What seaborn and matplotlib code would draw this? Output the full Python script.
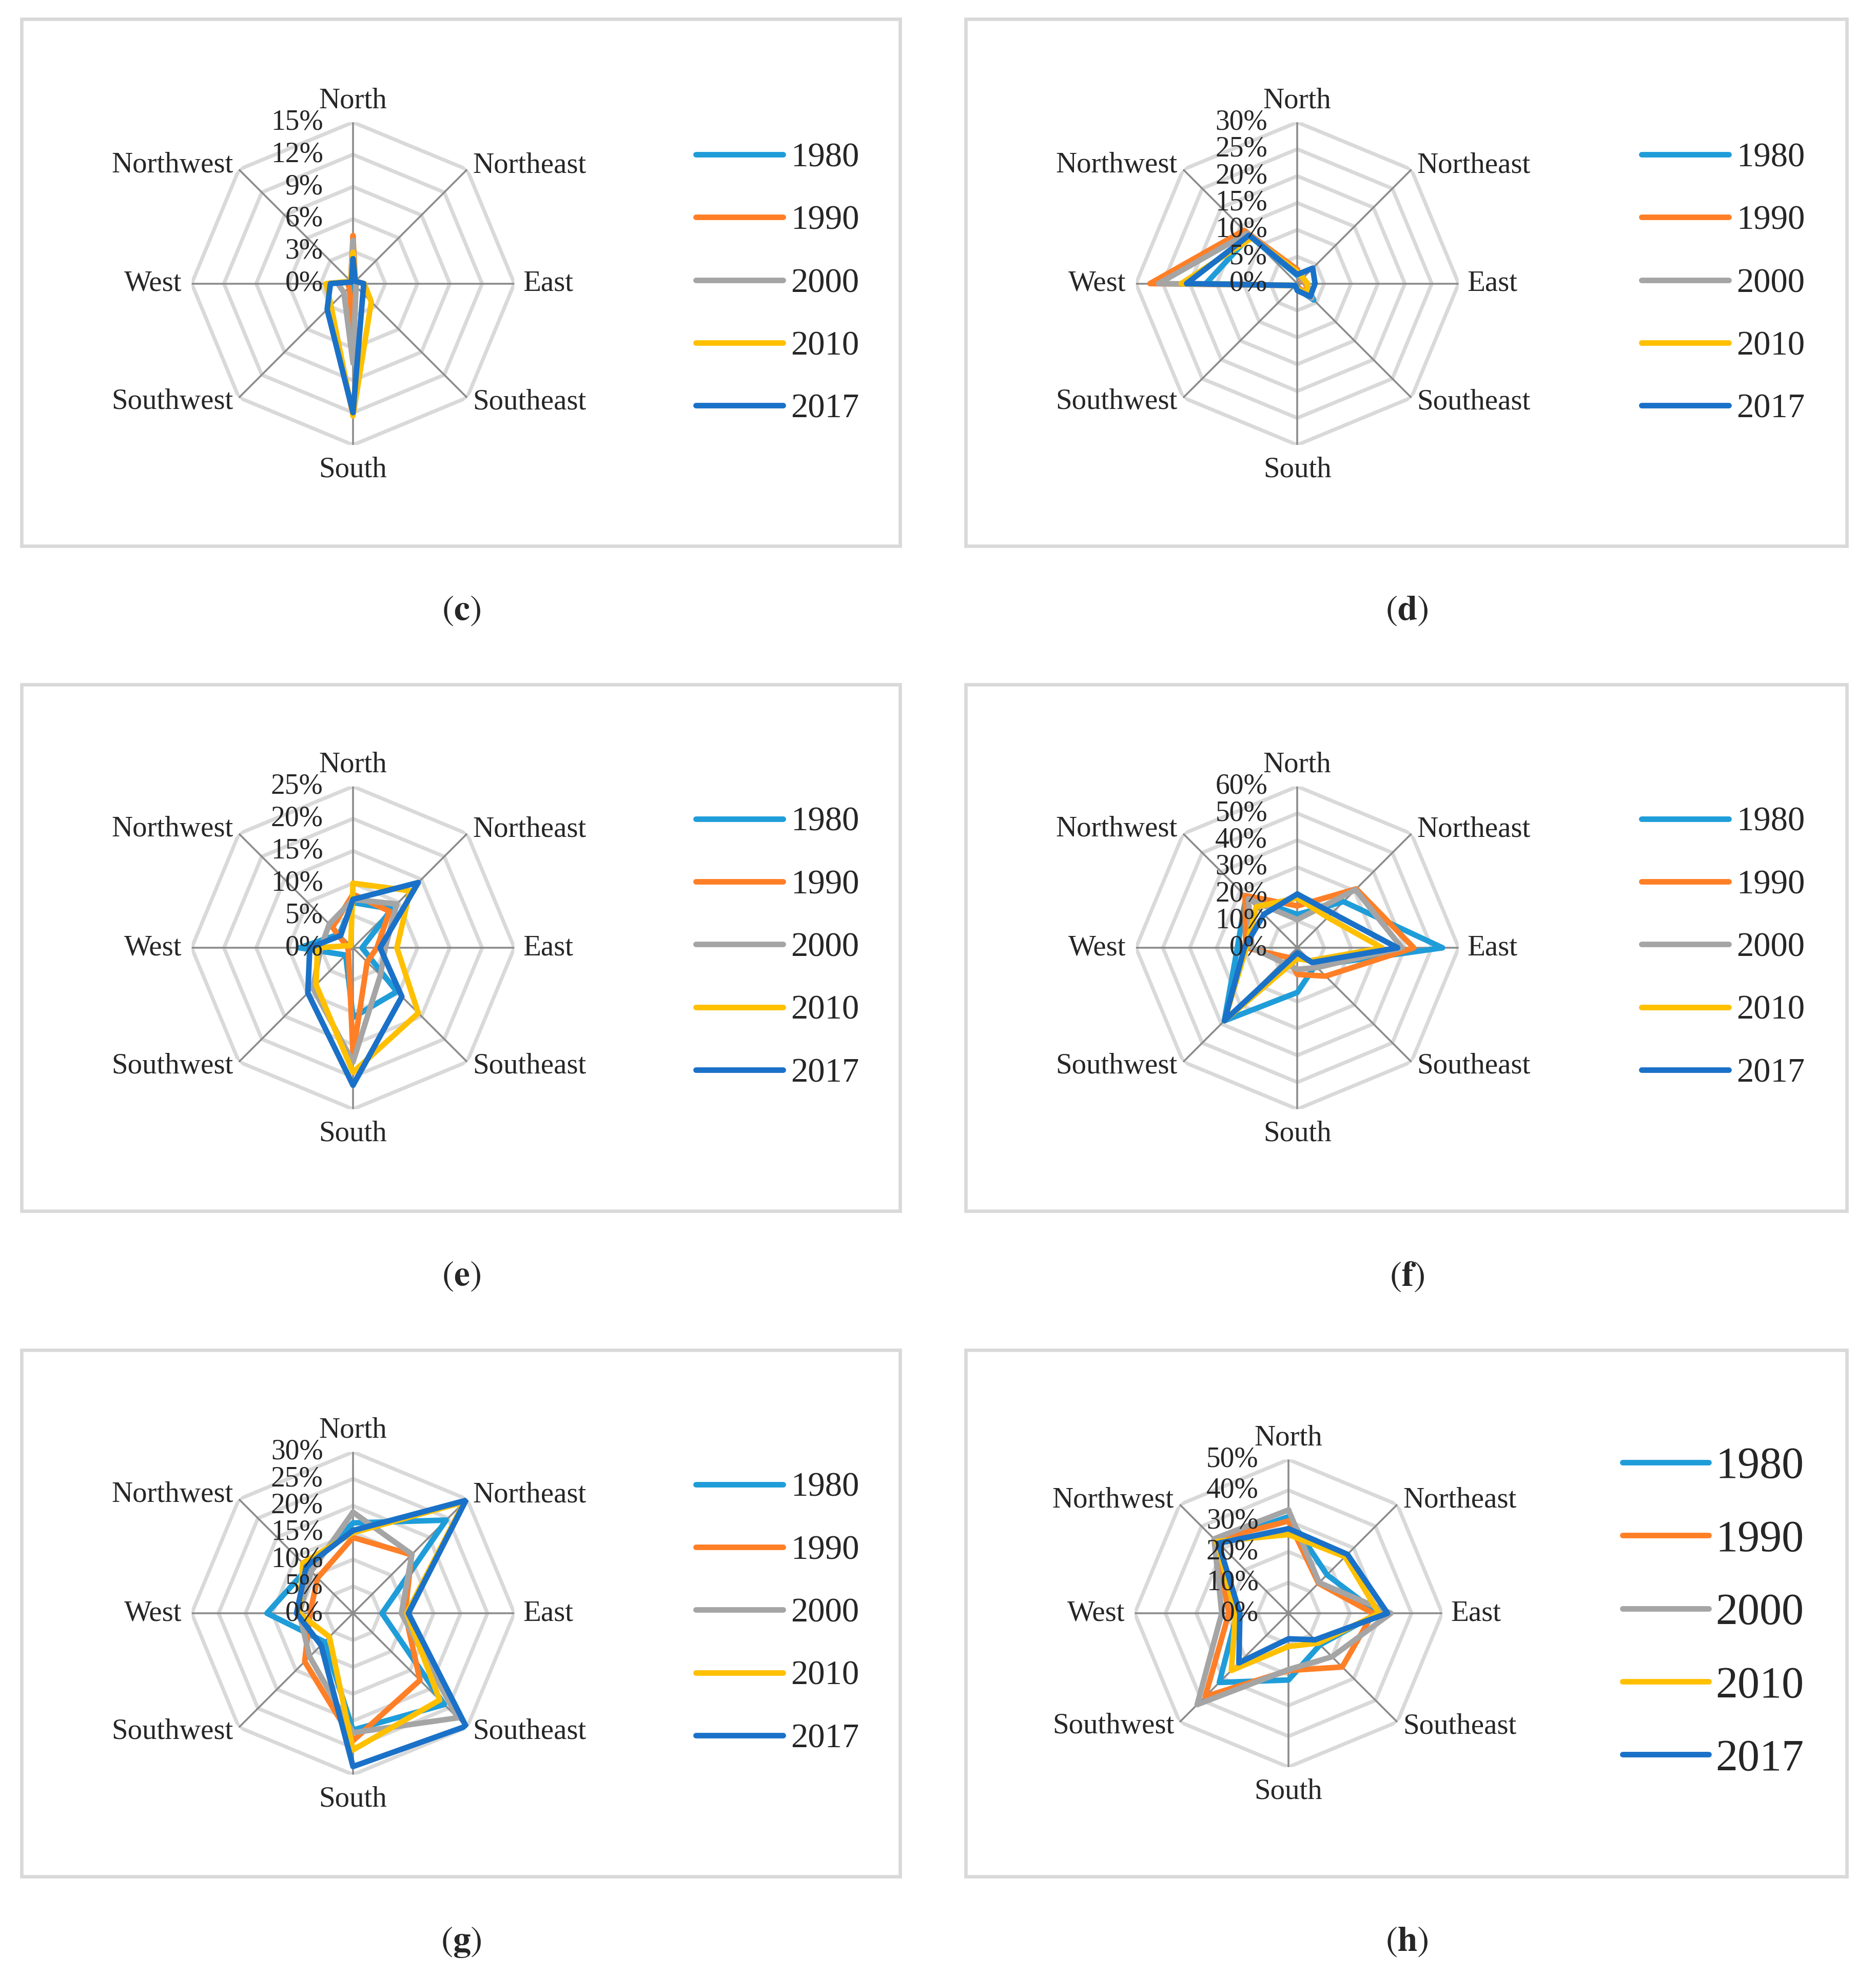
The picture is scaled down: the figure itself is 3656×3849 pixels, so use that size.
import numpy as np
import matplotlib.pyplot as plt
import seaborn as sns
from matplotlib.patches import Rectangle
from matplotlib.transforms import offset_copy

# Data: share (%) per wind direction, per year, for panels (c)-(h)
directions = ["North", "Northeast", "East", "Southeast", "South", "Southwest", "West", "Northwest"]
years = ["1980", "1990", "2000", "2010", "2017"]
colors = ["#1F9DD9", "#FF7F27", "#A5A5A5", "#FFC000", "#1A71C8"]

c_values = [[2.0, 0.2, 0.3, 0.3, 2.6, 0.3, 0.3, 0.2],
            [4.45, 0.3, 0.3, 0.4, 4.2, 0.5, 0.5, 0.3],
            [4.0, 0.2, 0.3, 0.4, 7.4, 1.2, 1.4, 0.3],
            [2.9, 0.3, 1.05, 2.4, 12.3, 2.9, 2.5, 0.3],
            [2.3, 0.3, 1.0, 1.3, 12.0, 3.4, 2.1, 0.2]]
c_ticks = [0, 3, 6, 9, 12, 15]

d_values = [[1.5, 1.5, 1.5, 4.3, 1.0, 0.5, 17.0, 12.5],
            [2.6, 1.0, 1.6, 2.5, 0.8, 0.5, 27.4, 14.0],
            [2.0, 1.2, 1.8, 3.8, 1.0, 0.5, 25.8, 13.2],
            [2.2, 1.5, 1.9, 2.5, 1.0, 0.5, 21.6, 12.0],
            [1.7, 4.05, 3.3, 3.4, 1.3, 0.5, 20.6, 12.7]]
d_ticks = [0, 5, 10, 15, 20, 25, 30]

e_values = [[7.0, 8.5, 1.4, 9.6, 10.8, 1.6, 8.3, 3.0],
            [8.3, 8.0, 3.7, 3.1, 16.5, 1.0, 0.8, 4.5],
            [7.5, 9.6, 5.0, 6.0, 17.7, 8.8, 5.0, 5.2],
            [10.0, 12.5, 6.8, 14.3, 19.3, 8.1, 5.5, 0.5],
            [7.5, 14.3, 4.2, 10.7, 21.3, 9.9, 6.7, 2.7]]
e_ticks = [0, 5, 10, 15, 20, 25]

f_values = [[12.4, 24.3, 54.0, 9.4, 16.6, 38.4, 22.3, 27.0],
            [15.6, 31.0, 43.3, 14.9, 9.9, 5.0, 19.2, 27.5],
            [10.5, 30.6, 38.9, 10.4, 8.0, 7.7, 16.9, 25.7],
            [18.5, 16.0, 31.5, 6.8, 4.0, 38.3, 19.0, 21.6],
            [20.0, 18.3, 37.3, 7.7, 1.9, 38.3, 19.7, 17.6]]
f_ticks = [0, 10, 20, 30, 40, 50, 60]

g_values = [[16.8, 24.5, 5.4, 24.0, 21.7, 7.5, 16.0, 11.9],
            [14.1, 15.4, 9.7, 17.6, 23.7, 12.7, 8.0, 9.3],
            [18.8, 15.5, 9.0, 27.5, 22.2, 11.4, 10.0, 11.0],
            [15.0, 29.3, 10.0, 22.8, 25.4, 6.2, 10.0, 13.2],
            [15.4, 29.7, 10.3, 29.7, 28.5, 8.4, 10.5, 12.3]]
g_ticks = [0, 5, 10, 15, 20, 25, 30]

h_values = [[31.4, 17.7, 29.0, 14.5, 21.7, 31.8, 16.7, 33.0],
            [30.0, 13.8, 27.5, 24.7, 18.6, 38.3, 19.4, 33.8],
            [33.6, 14.1, 33.3, 20.0, 18.3, 42.0, 21.7, 34.2],
            [25.6, 26.0, 29.4, 13.7, 10.8, 26.3, 17.2, 33.0],
            [27.5, 27.1, 32.2, 12.2, 8.3, 22.8, 15.8, 32.2]]
h_ticks = [0, 10, 20, 30, 40, 50]

sns.set_style("white")
plt.rcParams["font.family"] = ["Liberation Serif", "DejaVu Serif"]
plt.rcParams["mathtext.fontset"] = "stix"

fig = plt.figure(figsize=(18.28, 19.245), dpi=200)

# layout grid measured on the reference (1488 x 1567 units)
REF_W, REF_H = 1488.0, 1567.0
def fx(x):
    return x / REF_W
def fy(y):
    return 1 - y / REF_H

angles = np.deg2rad(np.arange(8) * 45.0)
angles_closed = np.append(angles, angles[0])

# label offsets (points) and alignment per direction
label_pos = [(0, 10, "center", "baseline"), (4, 3, "left", "center"),
             (6, 0, "left", "center"), (4, -3, "left", "center"),
             (0, -8, "center", "top"), (-4, -3, "right", "center"),
             (-7, 0, "right", "center"), (-4, 3, "right", "center")]

LINE_W = 3.9


def radar(values, ticks, cx, cy, R, leg_x, leg_fs, leg_len, leg_pad, leg_space):
    ax = fig.add_axes([fx(cx - R), fy(cy + R), fx(2 * R), 2 * R / REF_H],
                      projection="polar")
    ax.set_theta_zero_location("N")
    ax.set_theta_direction(-1)
    rmax = ticks[-1]
    # octagon rings and spokes
    for t in ticks[1:]:
        ax.plot(angles_closed, [t] * 9, color="#D9D9D9", lw=2.6, zorder=1)
    for a in angles:
        ax.plot([a, a], [0, rmax], color="#8C8C8C", lw=1.3, zorder=2)
    for vals, year, col in zip(values, years, colors):
        sns.lineplot(x=angles_closed, y=np.append(vals, vals[0]), ax=ax, sort=False,
                     estimator=None, color=col, linewidth=LINE_W, label=year,
                     solid_joinstyle="round", solid_capstyle="round", zorder=3)
        ax.lines[-1].set_linewidth(LINE_W)
    ax.set_ylim(0, rmax)
    ax.grid(False)
    ax.set_xticks([])
    ax.set_yticks([])
    ax.set_xlabel("")
    ax.set_ylabel("")
    ax.spines["polar"].set_visible(False)
    ax.patch.set_alpha(0)
    # radial tick labels
    tick_tr = offset_copy(ax.transData, fig=fig, x=-21, y=0, units="points")
    for t in ticks:
        ax.text(0, t, f"{t}%", transform=tick_tr, ha="right", va="center",
                fontsize=20, zorder=4)
    # direction labels
    for a, name, (dx, dy, ha, va) in zip(angles, directions, label_pos):
        tr = offset_copy(ax.transData, fig=fig, x=dx, y=dy, units="points")
        ax.text(a, rmax, name, transform=tr, ha=ha, va=va, fontsize=20.5)
    leg = ax.legend(loc="center left", bbox_to_anchor=(fx(leg_x), fy(cy)),
                    bbox_transform=fig.transFigure, frameon=False, fontsize=leg_fs,
                    handlelength=leg_len, handletextpad=leg_pad, labelspacing=leg_space,
                    borderaxespad=0, borderpad=0)
    for h in leg.get_lines():
        h.set_linewidth(LINE_W)
    return ax


# panel boxes and letters
box_cols = [(17, 714), (766, 1465)]
box_rows = [(15, 433), (543, 961), (1071, 1489)]
letters = [["c", "d"], ["e", "f"], ["g", "h"]]
for i, (y0, y1) in enumerate(box_rows):
    for j, (x0, x1) in enumerate(box_cols):
        fig.add_artist(Rectangle((fx(x0), fy(y1)), fx(x1 - x0), (y1 - y0) / REF_H,
                                 transform=fig.transFigure, fill=False,
                                 edgecolor="#D9D9D9", lw=2.4))
        fig.text(fx((x0 + x1) / 2 + 0.5), fy(y1 + 52), r"$(\mathbf{" + letters[i][j] + "})$",
                 ha="center", va="center", fontsize=25)

radar(c_values, c_ticks, 280, 225, 128, 552, 24, 2.55, 0.22, 0.92)
radar(d_values, d_ticks, 1029, 225, 128, 1302, 24, 2.55, 0.22, 0.92)
radar(e_values, e_ticks, 280, 752, 128, 552, 24, 2.55, 0.22, 0.92)
radar(f_values, f_ticks, 1029, 752, 128, 1302, 24, 2.55, 0.22, 0.92)
radar(g_values, g_ticks, 280, 1280, 128, 552, 24, 2.55, 0.22, 0.92)
radar(h_values, h_ticks, 1022, 1280, 122, 1287, 31, 1.95, 0.15, 0.73)

fig.savefig("out.png", dpi=200, facecolor="white")
